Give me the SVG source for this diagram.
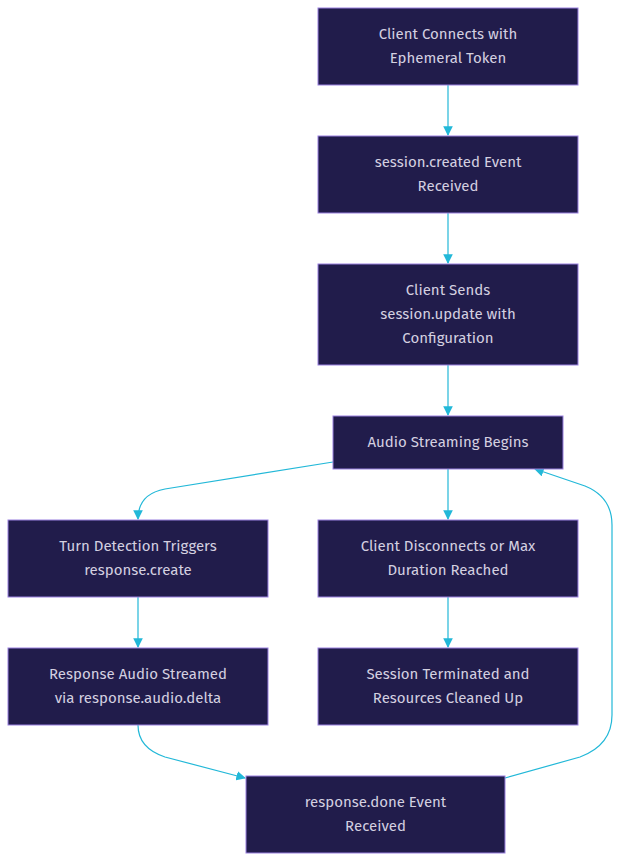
<svg xmlns="http://www.w3.org/2000/svg" width="621" height="862" viewBox="0 0 621 862">
<style>
.n rect{fill:#211c4b;stroke:#9a80e0;stroke-width:1}
.n text{fill:#d4d0e0;font-family:"Fira Sans","Open Sans","Noto Sans",sans-serif;font-size:15px;text-anchor:middle}
.e path{fill:none;stroke:#22b8d8;stroke-width:1.2;marker-end:url(#a)}
</style>
<defs><marker id="a" viewBox="0 0 10 10" refX="9" refY="5" markerWidth="8" markerHeight="8" orient="auto"><path d="M0,0L10,5L0,10z" fill="#22b8d8"/></marker></defs>
<rect width="621" height="862" fill="#fff"/>
<g class="e">
<path d="M448,85V135"/>
<path d="M448,213V263"/>
<path d="M448,365V415"/>
<path d="M448,469V519"/>
<path d="M448,597V647"/>
<path d="M138,597V647"/>
<path d="M333,462L165,489Q138,494 138,519"/>
<path d="M138,725Q138,748 165,757L245,778"/>
<path d="M505,778L580,757Q612,745 612,715L612,525Q612,497 585,486L535,469"/>
</g>
<g id="n1" class="n"><rect x="318" y="8" width="260" height="77"/><text x="448" y="39">Client Connects with</text><text x="448" y="63">Ephemeral Token</text></g>
<g id="n2" class="n"><rect x="318" y="136" width="260" height="77"/><text x="448" y="167">session.created Event</text><text x="448" y="191">Received</text></g>
<g id="n3" class="n"><rect x="318" y="264" width="260" height="101"/><text x="448" y="295">Client Sends</text><text x="448" y="319">session.update with</text><text x="448" y="343">Configuration</text></g>
<g id="n4" class="n"><rect x="333" y="416" width="230" height="53"/><text x="448" y="447">Audio Streaming Begins</text></g>
<g id="n5" class="n"><rect x="8" y="520" width="260" height="77"/><text x="138" y="551">Turn Detection Triggers</text><text x="138" y="575">response.create</text></g>
<g id="n6" class="n"><rect x="318" y="520" width="260" height="77"/><text x="448" y="551">Client Disconnects or Max</text><text x="448" y="575">Duration Reached</text></g>
<g id="n7" class="n"><rect x="8" y="648" width="260" height="77"/><text x="138" y="679">Response Audio Streamed</text><text x="138" y="703">via response.audio.delta</text></g>
<g id="n8" class="n"><rect x="318" y="648" width="260" height="77"/><text x="448" y="679">Session Terminated and</text><text x="448" y="703">Resources Cleaned Up</text></g>
<g id="n9" class="n"><rect x="246" y="776" width="259" height="77"/><text x="375.5" y="807">response.done Event</text><text x="375.5" y="831">Received</text></g>
</svg>
